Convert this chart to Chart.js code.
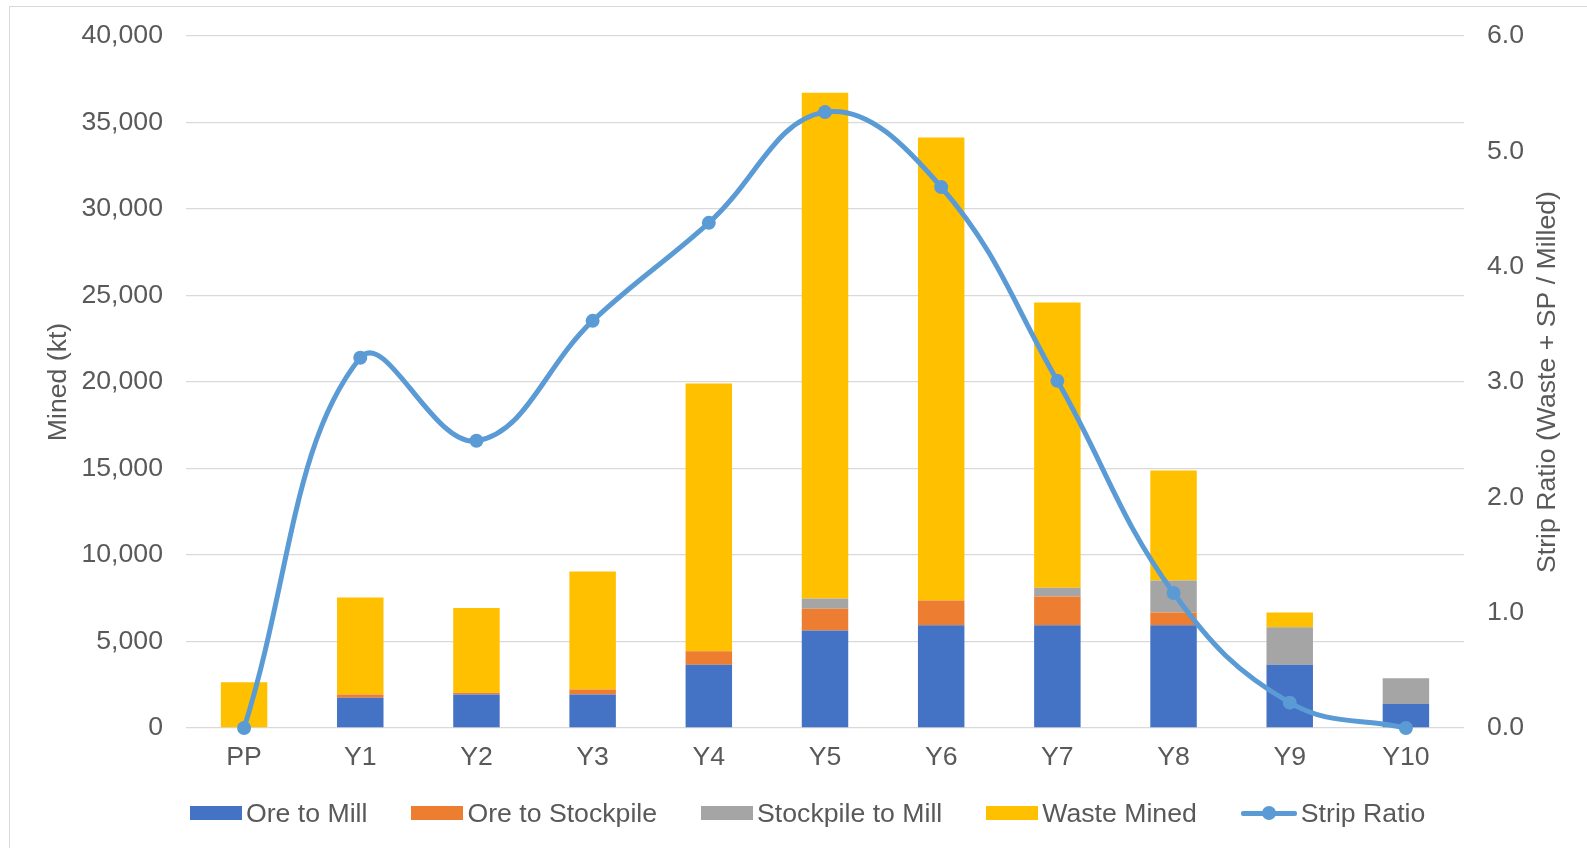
<!DOCTYPE html>
<html>
<head>
<meta charset="utf-8">
<script src="https://cdn.jsdelivr.net/npm/chart.js@4.4.1/dist/chart.umd.min.js"></script>
<style>
    body { margin: 0; background: #fff; font-family: "Liberation Sans", Arial, sans-serif; }
    #wrap { position: relative; width: 1587px; height: 848px; overflow: hidden; }
    #frame { position: absolute; left: 9px; top: 6px; width: 1700px; height: 1000px; border: 1px solid #D9D9D9; }
    #mineChart { position: absolute; left: 0; top: 0; }
    #legend { position: absolute; left: 190px; top: 798px; height: 30px; display: flex; align-items: center; color: #595959; font-size: 26.67px; white-space: nowrap; }
    .item { display: flex; align-items: center; margin-right: 44px; }
    .swatch { width: 52px; height: 14px; margin-right: 4px; }
    .lineSwatch { position: relative; width: 56px; height: 14px; margin-right: 4px; }
    .lineSwatch .bar { position: absolute; left: 0; right: 0; top: 5px; height: 5px; background: #5B9BD5; border-radius: 2px; }
    .lineSwatch .dot { position: absolute; left: 21px; top: 0; width: 14px; height: 14px; border-radius: 50%; background: #5B9BD5; }
</style>
</head>
<body>
<div id="wrap">
    <div id="frame"></div>
    <canvas id="mineChart" width="1587" height="848"></canvas>
    <div id="legend"></div>
</div>
<script>
const periods = ["PP", "Y1", "Y2", "Y3", "Y4", "Y5", "Y6", "Y7", "Y8", "Y9", "Y10"];

// kt per period
const oreToMill       = [0, 1750, 1930, 1930, 3650, 5630, 5940, 5940, 5940, 3660, 1390];
const oreToStockpile  = [0, 180, 110, 290, 790, 1270, 1430, 1660, 730, 0, 0];
const stockpileToMill = [0, 0, 0, 0, 0, 580, 0, 500, 1850, 2170, 1490];
const wasteMined      = [2640, 5610, 4900, 6830, 15470, 29240, 26770, 16500, 6360, 840, 0];

const stripRatio = [0, 3.21, 2.49, 3.53, 4.38, 5.34, 4.69, 3.01, 1.17, 0.22, 0];

const textColor = '#595959';
const fontFamily = '"Liberation Sans", Arial, sans-serif';
const tickFont = { family: fontFamily, size: 26.67 };
const rightTitle = 'Strip Ratio (Waste + SP / Milled)';

const barSeries = [
    { label: 'Ore to Mill', data: oreToMill, color: '#4472C4' },
    { label: 'Ore to Stockpile', data: oreToStockpile, color: '#ED7D31' },
    { label: 'Stockpile to Mill', data: stockpileToMill, color: '#A5A5A5' },
    { label: 'Waste Mined', data: wasteMined, color: '#FFC000' }
];

const datasets = barSeries.map(s => ({
    type: 'bar',
    label: s.label,
    data: s.data,
    backgroundColor: s.color,
    yAxisID: 'y',
    stack: 'mined',
    order: 1,
    barPercentage: 0.4,
    categoryPercentage: 1
}));

datasets.push({
    type: 'line',
    label: 'Strip Ratio',
    data: stripRatio,
    yAxisID: 'y1',
    borderColor: '#5B9BD5',
    backgroundColor: '#5B9BD5',
    borderWidth: 5,
    pointRadius: 7,
    pointBorderWidth: 0,
    tension: 0.4,
    fill: false,
    clip: false,
    order: 0
});

// right axis title reads bottom-to-top like the left one
const rightTitlePlugin = {
    id: 'rightTitle',
    afterDraw(chart) {
        const s = chart.scales.y1;
        const c = chart.ctx;
        c.save();
        c.translate(s.right - 39, (s.top + s.bottom) / 2);
        c.rotate(-Math.PI / 2);
        c.font = `${tickFont.size}px ${fontFamily}`;
        c.fillStyle = textColor;
        c.textAlign = 'center';
        c.textBaseline = 'middle';
        c.fillText(rightTitle, 0, 0);
        c.restore();
    }
};

function fixAxisWidth(w) {
    return scale => {
        scale.width = w;
        scale.paddingTop = 0;
        scale.paddingBottom = 0;
    };
}

const ctx = document.getElementById('mineChart').getContext('2d');
const mineChart = new Chart(ctx, {
    data: { labels: periods, datasets: datasets },
    plugins: [rightTitlePlugin],
    options: {
        responsive: false,
        animation: false,
        layout: { padding: { top: 36, bottom: 60, left: 0, right: 0 } },
        plugins: {
            legend: { display: false },
            tooltip: { enabled: false }
        },
        scales: {
            x: {
                stacked: true,
                grid: { display: false },
                border: { display: false },
                ticks: { font: tickFont, color: textColor, padding: 6, maxRotation: 0 },
                afterFit: scale => { scale.height = 60; }
            },
            y: {
                position: 'left',
                stacked: true,
                min: 0,
                max: 40000,
                grid: { color: '#D9D9D9', lineWidth: 1.3, drawTicks: false },
                border: { display: false },
                ticks: {
                    stepSize: 5000,
                    font: tickFont,
                    color: textColor,
                    padding: 23,
                    callback: v => v.toLocaleString('en-US')
                },
                title: {
                    display: true,
                    text: 'Mined (kt)',
                    font: tickFont,
                    color: textColor,
                    padding: { top: 43, bottom: 0 }
                },
                afterFit: fixAxisWidth(186)
            },
            y1: {
                position: 'right',
                min: 0,
                max: 6,
                grid: { display: false, drawTicks: false },
                border: { display: false },
                ticks: {
                    stepSize: 1,
                    font: tickFont,
                    color: textColor,
                    padding: 23,
                    callback: v => v.toFixed(1)
                },
                afterFit: fixAxisWidth(123)
            }
        }
    }
});

// legend built from the chart's datasets
const legendDiv = document.getElementById('legend');
mineChart.data.datasets.forEach(ds => {
    const item = document.createElement('div');
    item.className = 'item';
    if (ds.type === 'line') {
        item.innerHTML = '<div class="lineSwatch"><div class="bar"></div><div class="dot"></div></div>';
    } else {
        item.innerHTML = `<div class="swatch" style="background:${ds.backgroundColor}"></div>`;
    }
    const span = document.createElement('span');
    span.textContent = ds.label;
    item.appendChild(span);
    legendDiv.appendChild(item);
});
</script>
</body>
</html>
